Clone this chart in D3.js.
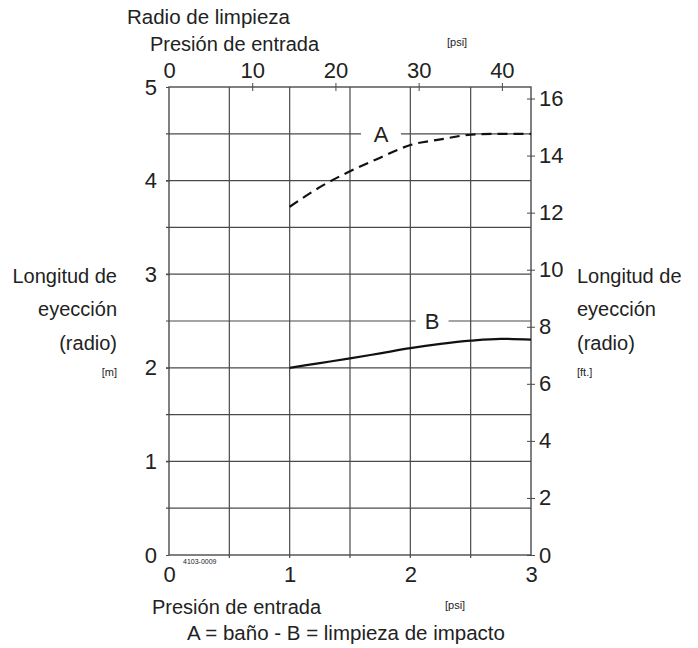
<!DOCTYPE html>
<html>
<head>
<meta charset="utf-8">
<script src="https://cdn.jsdelivr.net/npm/d3@7"></script>
<style>
  body { margin: 0; background: #fff; }
  svg text { font-family: "Liberation Sans", Arial, Helvetica, sans-serif; fill: #222; }
</style>
</head>
<body>
<div id="chart"></div>
<script>
// pressure in bar (bottom axis), radius in m
var pressureBar = [1, 1.25, 1.5, 1.75, 2, 2.25, 2.5, 2.75, 3];
var radioA = [3.72, 3.93, 4.10, 4.245, 4.38, 4.44, 4.49, 4.50, 4.50];
var radioB = [2.0, 2.05, 2.10, 2.155, 2.21, 2.255, 2.29, 2.31, 2.30];

var barTicks = [0, 1, 2, 3];
var psiTicks = [0, 10, 20, 30, 40];
var mTicks = [0, 1, 2, 3, 4, 5];
var ftTicks = [0, 2, 4, 6, 8, 10, 12, 14, 16];
var gridX = [0.5, 1, 1.5, 2, 2.5];
var gridY = [0.5, 1, 1.5, 2, 2.5, 3, 3.5, 4, 4.5];

var sideLabel = ["Longitud de", "eyección", "(radio)"];

var W = 698, H = 648;
var plotL = 169, plotR = 531, plotT = 87, plotB = 555;

var x = d3.scaleLinear().domain([0, 3]).range([plotL, plotR]);
var xPsi = d3.scaleLinear().domain([0, 3 * 14.5]).range([plotL, plotR]);
var y = d3.scaleLinear().domain([0, 5]).range([plotB, plotT]);
var yFt = d3.scaleLinear().domain([0, 5 * 3.2808]).range([plotB, plotT]);

var svg = d3.select("#chart").append("svg")
  .attr("width", W)
  .attr("height", H);

var gridColor = "#4a4a4a";
var fmt = d3.format("d");
var tickFont = 22;

// grid
svg.append("g").selectAll("line")
  .data(gridX).enter().append("line")
  .attr("x1", d => x(d)).attr("x2", d => x(d))
  .attr("y1", plotT).attr("y2", plotB + 3)
  .attr("stroke", gridColor).attr("stroke-width", 1.2);

svg.append("g").selectAll("line")
  .data(gridY).enter().append("line")
  .attr("x1", plotL - 3).attr("x2", plotR)
  .attr("y1", d => y(d)).attr("y2", d => y(d))
  .attr("stroke", gridColor).attr("stroke-width", 1.2);

svg.append("rect")
  .attr("x", plotL).attr("y", plotT)
  .attr("width", plotR - plotL).attr("height", plotB - plotT)
  .attr("fill", "none")
  .attr("stroke", gridColor).attr("stroke-width", 1.4);

// left axis (m)
var leftAxis = d3.axisLeft(y).tickValues(mTicks).tickFormat(fmt).tickSize(3).tickPadding(9);
svg.append("g").attr("transform", "translate(" + plotL + ",0)").call(leftAxis)
  .call(g => g.select(".domain").remove())
  .call(g => g.selectAll(".tick line").attr("stroke", gridColor));

// right axis (ft)
var rightAxis = d3.axisRight(yFt).tickValues(ftTicks).tickFormat(fmt).tickSize(4).tickPadding(4);
svg.append("g").attr("transform", "translate(" + plotR + ",0)").call(rightAxis)
  .call(g => g.select(".domain").remove())
  .call(g => g.selectAll(".tick line").attr("x1", -4).attr("stroke", gridColor));

// bottom axis (bar)
var bottomAxis = d3.axisBottom(x).tickValues(barTicks).tickFormat(fmt).tickSize(0).tickPadding(11);
svg.append("g").attr("transform", "translate(0," + plotB + ")").call(bottomAxis)
  .call(g => g.select(".domain").remove());

// top axis (psi)
var topAxis = d3.axisTop(xPsi).tickValues(psiTicks).tickFormat(fmt).tickSize(4).tickPadding(5);
svg.append("g").attr("transform", "translate(0," + plotT + ")").call(topAxis)
  .call(g => g.select(".domain").remove())
  .call(g => g.selectAll(".tick line").attr("y1", 4).attr("stroke", gridColor))
  .call(g => g.selectAll(".tick").filter(d => d === 0).select("line").remove());

svg.selectAll(".tick text")
  .attr("font-family", "Liberation Sans, Arial, sans-serif")
  .attr("font-size", tickFont)
  .attr("fill", "#222");

// curves
var line = d3.line()
  .x(d => x(d[0]))
  .y(d => y(d[1]))
  .curve(d3.curveMonotoneX);

svg.append("path")
  .datum(d3.zip(pressureBar, radioA))
  .attr("d", line)
  .attr("fill", "none")
  .attr("stroke", "#111")
  .attr("stroke-width", 2.2)
  .attr("stroke-dasharray", "10,6");

svg.append("path")
  .datum(d3.zip(pressureBar, radioB))
  .attr("d", line)
  .attr("fill", "none")
  .attr("stroke", "#111")
  .attr("stroke-width", 2.2);

// curve labels with white gap in grid line
function curveLabel(txt, bx, my, w) {
  svg.append("rect")
    .attr("x", x(bx) - w / 2).attr("y", y(my) - 4)
    .attr("width", w).attr("height", 8)
    .attr("fill", "#fff");
  svg.append("text")
    .attr("x", x(bx)).attr("y", y(my) + 8)
    .attr("text-anchor", "middle")
    .attr("font-size", tickFont)
    .text(txt);
}
curveLabel("A", 1.757, 4.5, 40);
curveLabel("B", 2.18, 2.5, 33);

// titles
svg.append("text").attr("x", 127).attr("y", 24).attr("font-size", 20.5).text("Radio de limpieza");
svg.append("text").attr("x", 150).attr("y", 51).attr("font-size", 20).text("Presión de entrada");
svg.append("text").attr("x", 447).attr("y", 46).attr("font-size", 11).text("[psi]");

svg.append("text").attr("x", 152).attr("y", 614).attr("font-size", 20).text("Presión de entrada");
svg.append("text").attr("x", 445).attr("y", 609).attr("font-size", 11).text("[psi]");
svg.append("text").attr("x", 346).attr("y", 640).attr("font-size", 20.5)
  .attr("text-anchor", "middle").text("A = baño - B = limpieza de impacto");

svg.append("text").attr("x", 183).attr("y", 564).attr("font-size", 7).text("4103-0009");

// side labels
var sideY = [283, 316, 350];
svg.append("g").selectAll("text").data(sideLabel).enter().append("text")
  .attr("x", 117).attr("y", (d, i) => sideY[i])
  .attr("text-anchor", "end").attr("font-size", 20).text(d => d);
svg.append("text").attr("x", 117).attr("y", 376).attr("text-anchor", "end")
  .attr("font-size", 11).text("[m]");

svg.append("g").selectAll("text").data(sideLabel).enter().append("text")
  .attr("x", 577).attr("y", (d, i) => sideY[i])
  .attr("font-size", 20).text(d => d);
svg.append("text").attr("x", 577).attr("y", 376)
  .attr("font-size", 11).text("[ft.]");
</script>
</body>
</html>
